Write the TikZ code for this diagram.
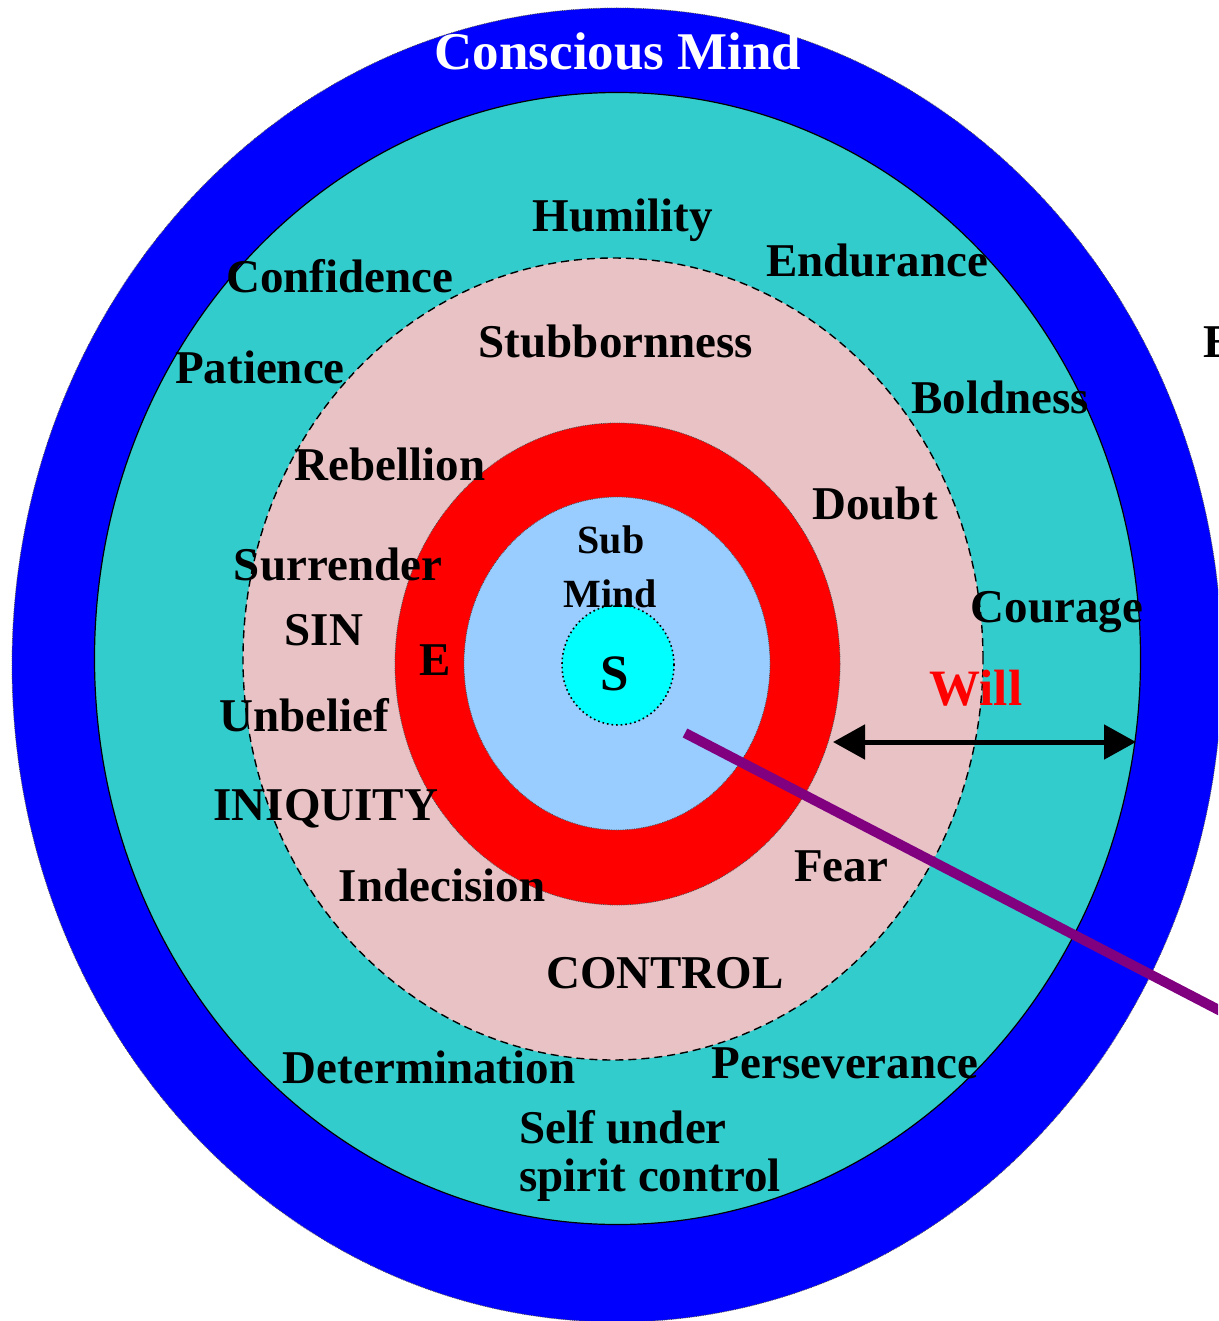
\documentclass[tikz,border=0pt]{standalone}
\usepackage{fontspec}
\setmainfont{Liberation Serif}
\usetikzlibrary{arrows.meta}
\definecolor{cblue}{RGB}{0,0,255}
\definecolor{cteal}{RGB}{51,204,204}
\definecolor{cpink}{RGB}{232,194,196}
\definecolor{cred}{RGB}{255,0,0}
\definecolor{clight}{RGB}{153,204,255}
\definecolor{ccyan}{RGB}{0,255,255}
\definecolor{cpurple}{RGB}{128,0,128}
\begin{document}
\begin{tikzpicture}[x=1pt,y=-1pt,
  lbl/.style={font=\fontsize{47}{52}\selectfont\bfseries, anchor=base, inner sep=0pt, text=black},
  small/.style={lbl, font=\fontsize{40}{45}\selectfont\bfseries},
  big/.style={lbl, font=\fontsize{51}{56}\selectfont\bfseries},
  ring/.style={line width=0.8pt}
]
\useasboundingbox (0,0) rectangle (1218,1321);
\clip (0,0) rectangle (1218,1321);
\fill[white] (0,0) rectangle (1218,1321);
% rings
\draw[ring, fill=cblue, draw=black!70, densely dotted] (617,665) ellipse [x radius=605pt, y radius=657pt];
\draw[ring, fill=cteal, draw=black, line width=1.2pt] (617.5,658.5) ellipse [x radius=523pt, y radius=566pt];
\draw[fill=cpink, draw=black, line width=1.4pt, dash pattern=on 8pt off 5pt] (613,659) ellipse [x radius=370pt, y radius=401pt];
\draw[ring, fill=cred, draw=black!70, densely dotted] (617.5,664) ellipse [x radius=222.5pt, y radius=241pt];
\draw[ring, fill=clight, draw=black!70, densely dotted] (617,663.5) ellipse [x radius=153pt, y radius=166.5pt];
\draw[fill=ccyan, draw=black, line width=1.6pt, dash pattern=on 1.6pt off 3pt] (618,665) ellipse [x radius=56pt, y radius=60pt];
% purple line
\coordinate (pstart) at (685,733);
\coordinate (pend) at (1240,1021);
\draw[cpurple, line width=10pt] (pstart) -- (pend);
% double arrow
\coordinate (al) at (833,742);
\coordinate (ar) at (1136,742);
\draw[line width=5pt, {Triangle[length=32pt,width=34pt]}-{Triangle[length=32pt,width=34pt]}] (al) -- (ar);
% labels
\node[big, text=white, font=\fontsize{53}{58}\selectfont\bfseries] (conscious) at (618,70) {Conscious Mind};
\node[lbl] (humility) at (623,232) {Humility};
\node[lbl] (confidence) at (340,293) {Confidence};
\node[lbl] (endurance) at (877,277) {Endurance};
\node[lbl] (stub) at (616,357) {Stubbornness};
\node[lbl] (patience) at (260,383) {Patience};
\node[lbl] (boldness) at (1000,413) {Boldness};
\node[lbl, anchor=base west] (eright) at (1203,357) {E};
\node[lbl] (rebellion) at (390,480) {Rebellion};
\node[lbl] (doubt) at (875,519) {Doubt};
\node[small] (sub) at (611,553) {Sub};
\node[small] (mind) at (610,607) {Mind};
\node[lbl] (surrender) at (338,580) {Surrender};
\node[lbl] (courage) at (1057,622) {Courage};
\node[lbl] (sin) at (324,645) {SIN};
\node[lbl] (e) at (435,675) {E};
\node[big] (s) at (615,690) {S};
\node[big, text=cred] (will) at (976,705) {Will};
\node[lbl] (unbelief) at (304,731) {Unbelief};
\node[lbl] (iniquity) at (326,820) {INIQUITY};
\node[lbl] (fear) at (841,881) {Fear};
\node[lbl] (indecision) at (442,901) {Indecision};
\node[lbl] (control) at (665,988) {CONTROL};
\node[lbl] (determination) at (429,1083) {Determination};
\node[lbl] (perseverance) at (845,1078) {Perseverance};
\node[lbl, anchor=base west] (self) at (519,1143) {Self under};
\node[lbl, anchor=base west] (spirit) at (519,1191) {spirit control};
\end{tikzpicture}
\end{document}
